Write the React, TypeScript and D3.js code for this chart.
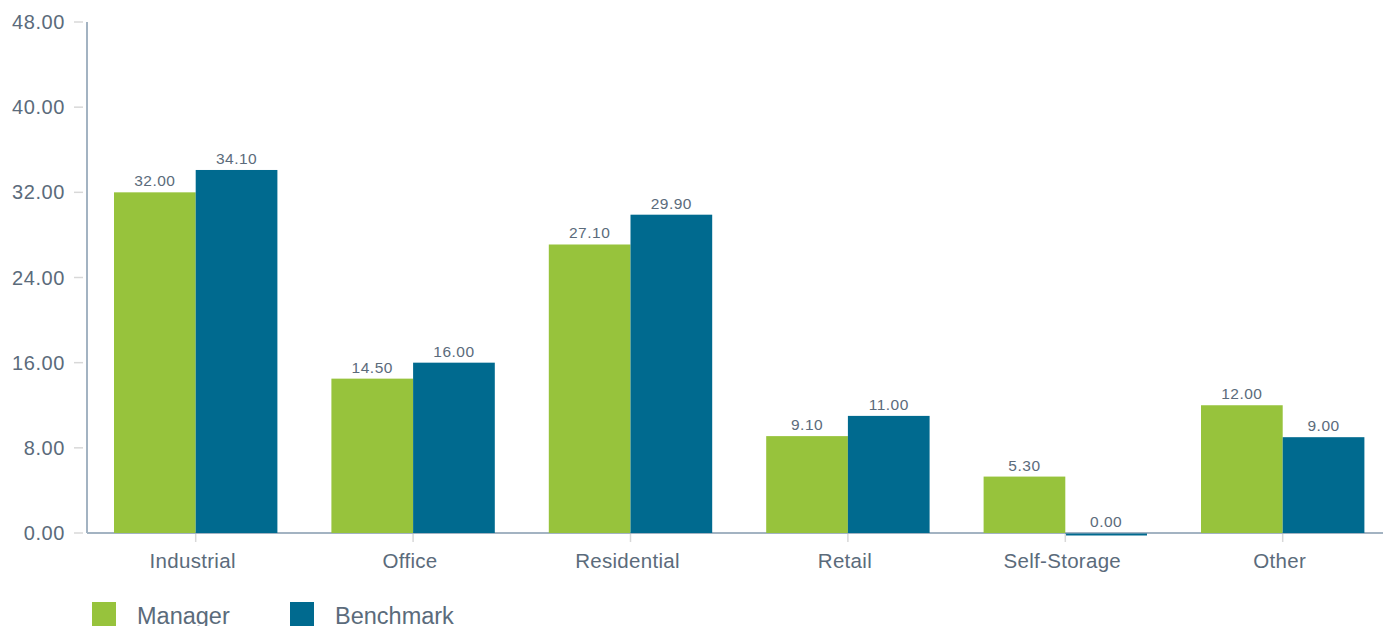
import React from "react";
import * as d3 from "d3";

const categories = ["Industrial", "Office", "Residential", "Retail", "Self-Storage", "Other"];
const managerValues = [32.0, 14.5, 27.1, 9.1, 5.3, 12.0];
const benchmarkValues = [34.1, 16.0, 29.9, 11.0, 0.0, 9.0];
const yTicks = [0, 8, 16, 24, 32, 40, 48];
const seriesNames = ["Manager", "Benchmark"];
const seriesColors = ["#97c33c", "#006a8f"];

const W = 1383;
const H = 626;
const left = 87;
const top = 22;
const bottom = 533;
const TEXT = "#5b6b7b";
const FONT = "'Liberation Sans', Arial, sans-serif";

export default function App() {
  const x = d3.scaleBand<string>().domain(categories).range([left, left + 217.4 * 6]).paddingInner(0).paddingOuter(0);
  const y = d3.scaleLinear().domain([0, 48]).range([bottom, top]);
  const bw = x.bandwidth();
  const groupPad = 27;
  const barW = (bw - 2 * groupPad) / 2;
  const series = [managerValues, benchmarkValues];

  return (
    <svg width={W} height={H} style={{ position: "absolute", left: 0, top: 0, display: "block" }} fontFamily={FONT}>
      <rect x={0} y={0} width={W} height={H} fill="#fff" />
      {yTicks.map((t) => (
        <g key={t}>
          <line x1={74} x2={83} y1={y(t)} y2={y(t)} stroke="#d8d8d8" strokeWidth={1.5} />
          <text x={65} y={y(t)} dy="0.35em" textAnchor="end" fontSize={20} letterSpacing={0.6} fill={TEXT}>
            {t.toFixed(2)}
          </text>
        </g>
      ))}
      <line x1={left} x2={left} y1={top} y2={bottom} stroke="#a3b3c2" strokeWidth={2} />
      <line x1={left} x2={W} y1={bottom} y2={bottom} stroke="#a3b3c2" strokeWidth={2} />
      {categories.map((c, i) => {
        const cx = (x(c) as number) + bw / 2;
        return (
          <g key={c}>
            {series.map((vals, s) => {
              const v = vals[i];
              const bx = (x(c) as number) + groupPad + s * barW;
              const h = bottom - y(v);
              return (
                <g key={s}>
                  {v === 0 ? (
                    <rect x={bx} y={bottom + 0.5} width={barW} height={2} fill={seriesColors[s]} />
                  ) : (
                    <rect x={bx} y={y(v)} width={barW} height={h} fill={seriesColors[s]} />
                  )}
                  <text x={bx + barW / 2} y={(v === 0 ? bottom : y(v)) - 6} textAnchor="middle" fontSize={15.5} letterSpacing={0.5} fill={TEXT}>
                    {v.toFixed(2)}
                  </text>
                </g>
              );
            })}
            <line x1={cx} x2={cx} y1={bottom + 1} y2={bottom + 9} stroke="#d8d8d8" strokeWidth={1.5} />
            <text x={cx - 3} y={568} textAnchor="middle" fontSize={20.5} letterSpacing={0.3} fill={TEXT}>
              {c}
            </text>
          </g>
        );
      })}
      {seriesNames.map((n, i) => {
        const lx = [92, 290][i];
        return (
          <g key={n}>
            <rect x={lx} y={602} width={24} height={26} fill={seriesColors[i]} />
            <text x={lx + 45} y={624} fontSize={23.5} fill={TEXT}>
              {n}
            </text>
          </g>
        );
      })}
    </svg>
  );
}
